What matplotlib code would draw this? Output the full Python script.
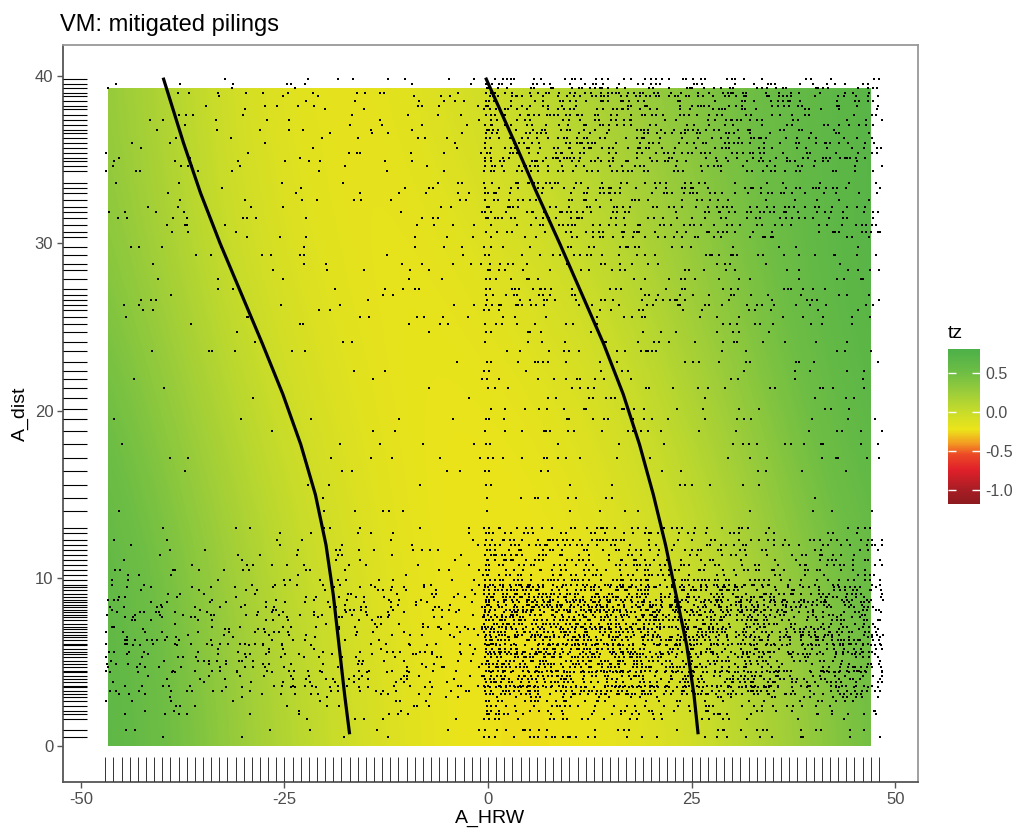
import numpy as np
import matplotlib
matplotlib.use('Agg')
import matplotlib.pyplot as plt
from matplotlib.colors import LinearSegmentedColormap, Normalize
from matplotlib.cm import ScalarMappable
from matplotlib.patches import Rectangle

plt.rcParams['font.family'] = ['Liberation Sans', 'DejaVu Sans']
plt.rcParams['axes.unicode_minus'] = False

tz_x = [-50, -40, -30, -20, -10, 0, 10, 20, 30, 40, 50]
tz_y = [0, 10, 20, 30, 40]
tz = [
    [0.70, 0.55, 0.25, 0.02, -0.16, -0.24, -0.24, -0.16, 0.04, 0.30, 0.55],
    [0.70, 0.49, 0.19, -0.04, -0.19, -0.24, -0.22, -0.12, 0.08, 0.38, 0.62],
    [0.60, 0.33, 0.06, -0.12, -0.21, -0.22, -0.16, 0.00, 0.25, 0.55, 0.72],
    [0.42, 0.18, -0.06, -0.18, -0.21, -0.14, -0.02, 0.17, 0.42, 0.64, 0.75],
    [0.35, 0.13, -0.11, -0.20, -0.16, -0.02, 0.14, 0.30, 0.48, 0.63, 0.72],
]
raster_x = (-46.7, 46.9)
raster_y = (0.0, 39.3)

# --- the two black curves ---
left_y = [39.9, 36, 33, 30, 27, 24, 21, 18, 15, 12, 9, 6, 3, 0.7]
left_x = [-39.9, -37.4, -35.3, -32.9, -30.3, -27.7, -25.2, -23.0, -21.2, -19.9, -19.0, -18.3, -17.6, -17.0]
right_y = [39.9, 36, 33, 30, 27, 24, 21, 18, 15, 12, 9, 6, 3, 0.7]
right_x = [-0.3, 3.3, 6.0, 8.8, 11.5, 14.2, 16.6, 18.6, 20.3, 21.8, 23.1, 24.4, 25.3, 25.8]

# --- rug values ---
y_levels = [39.8, 39.5, 39.3, 39.0, 38.8, 38.5, 38.2, 38.0, 37.7, 37.4, 37.1, 36.8,
            36.6, 36.3, 36.0, 35.7, 35.4, 35.1, 34.9, 34.6, 34.3, 33.6, 33.3, 33.0,
            32.6, 32.2, 31.9, 31.5, 31.1, 30.7, 30.4, 29.8, 29.3, 28.8, 28.4, 27.9,
            27.3, 26.9, 26.6, 26.3, 26.0, 25.6, 25.2, 24.7, 24.1, 23.6, 22.9, 22.4,
            21.9, 21.4, 20.8, 20.1, 19.5, 18.8, 18.0, 17.2, 16.4, 15.6, 14.8, 14.0,
            13.0, 12.7, 12.3, 12.0, 11.7, 11.4, 11.1, 10.8, 10.5, 10.2, 9.9, 9.6,
            9.5, 9.3, 9.1, 8.9, 8.7, 8.6, 8.4, 8.3, 8.1, 8.0, 7.8, 7.7, 7.5, 7.3,
            7.1, 7.0, 6.8, 6.6, 6.5, 6.3, 6.1, 6.0, 5.8, 5.6, 5.5, 5.3, 5.1, 4.9,
            4.7, 4.5, 4.4, 4.2, 4.0, 3.8, 3.6, 3.5, 3.3, 3.1, 2.9, 2.7, 2.4, 2.1,
            1.9, 1.6, 0.95, 0.54]
x_rug = list(range(-47, 49))

# --- point density (share of half-unit cells holding a point), by y band and x band ---
dens_y = [0, 3, 10, 13, 17, 26, 30, 40.5]
dens_x = [-48, -25, -0.5, 0.5, 20, 35, 49]
dens = [
    [0.05, 0.07, 0.85, 0.30, 0.26, 0.20],
    [0.12, 0.15, 0.95, 0.70, 0.55, 0.42],
    [0.08, 0.10, 0.90, 0.45, 0.35, 0.28],
    [0.03, 0.05, 0.60, 0.12, 0.09, 0.06],
    [0.04, 0.06, 0.70, 0.18, 0.14, 0.12],
    [0.04, 0.06, 0.80, 0.28, 0.22, 0.18],
    [0.07, 0.08, 0.90, 0.45, 0.36, 0.30],
]


def mix(k):
    # integer hash, used to halftone the density table
    k = (k ^ (k >> 16)) * 0x45d9f3b & 0xffffffff
    k = (k ^ (k >> 16)) * 0x45d9f3b & 0xffffffff
    return (k ^ (k >> 16)) & 0xffffffff


px, py = [], []
sub_x = np.arange(-47, 48.5, 0.5)
for j, yv in enumerate(y_levels):
    bj = np.searchsorted(dens_y, yv) - 1
    for i, xv in enumerate(sub_x):
        bi = np.searchsorted(dens_x, xv, side='right') - 1
        bi = min(max(bi, 0), len(dens_x) - 2)
        h = mix(j * 4096 + i + 12345)
        if (h % 10000) / 10000 < dens[bj][bi]:
            px.append(xv + ((h >> 16) % 100) / 100 * 0.45)
            py.append(yv)

cmap = LinearSegmentedColormap.from_list('tz', [
    (0.00, '#8c1a1e'), (0.09, '#a81d24'), (0.22, '#e0202a'), (0.32, '#ec4a26'),
    (0.39, '#f39a22'), (0.48, '#ece41a'), (0.593, '#c8dc2a'), (0.72, '#9ccd3a'),
    (0.845, '#6fbe44'), (1.00, '#4cb049')])
norm = Normalize(vmin=-1.18, vmax=0.81)

fig = plt.figure(figsize=(10.19, 8.32), dpi=100)
ax = fig.add_axes([63/1019, 1-782/832, 855/1019, 737/832])
x0, x1, y0, y1 = -52.2, 52.8, -2.15, 41.85

im = ax.imshow(np.array(tz), origin='lower', extent=[-55, 55, -5, 45], aspect='auto',
               interpolation='bicubic', cmap=cmap, norm=norm, zorder=1)
clip = Rectangle((raster_x[0], raster_y[0]), raster_x[1] - raster_x[0],
                 raster_y[1] - raster_y[0], transform=ax.transData)
im.set_clip_path(clip)
ax.scatter(px, py, s=0.9, c='black', marker='s', linewidths=0, zorder=2)
ax.plot(left_x, left_y, color='black', lw=2.3, zorder=3, solid_capstyle='butt')
ax.plot(right_x, right_y, color='black', lw=2.3, zorder=3, solid_capstyle='butt')
ax.hlines(y_levels, x0, x0 + 0.028 * (x1 - x0), color='black', lw=0.8, zorder=3)
ax.vlines(x_rug, y0, y0 + 0.034 * (y1 - y0), color='#333333', lw=0.7, zorder=3)

ax.set_xlim(x0, x1)
ax.set_ylim(y0, y1)
ax.set_xticks([-50, -25, 0, 25, 50])
ax.set_yticks([0, 10, 20, 30, 40])
ax.tick_params(length=4, width=1, color='#555555', labelcolor='#4d4d4d', labelsize=12, pad=3)
for s in ['left', 'bottom']:
    ax.spines[s].set_color('#555555')
    ax.spines[s].set_linewidth(1.3)
for s in ['top', 'right']:
    ax.spines[s].set_color('#999999')
    ax.spines[s].set_linewidth(1.3)
ax.set_xlabel('A_HRW', fontsize=14, labelpad=2)
ax.set_ylabel('A_dist', fontsize=14, labelpad=4)

fig.text(60/1019, 1-31/832, 'VM: mitigated pilings', fontsize=17, va='baseline')

# colour bar
cax = fig.add_axes([948/1019, 1-504/832, 32/1019, 155/832])
cb = fig.colorbar(ScalarMappable(norm=norm, cmap=cmap), cax=cax)
cb.outline.set_visible(False)
cb.set_ticks([-1.0, -0.5, 0.0, 0.5])
cb.set_ticklabels(['-1.0', '-0.5', '0.0', '0.5'])
cax.yaxis.set_ticks_position('both')
cax.tick_params(direction='in', length=6, width=1, color='white', labelcolor='#4d4d4d',
                labelsize=11.5, labelleft=False, labelright=True, pad=4)
fig.text(948/1019, 1-333/832, 'tz', fontsize=14, va='center')

fig.savefig('out.png', dpi=100)
